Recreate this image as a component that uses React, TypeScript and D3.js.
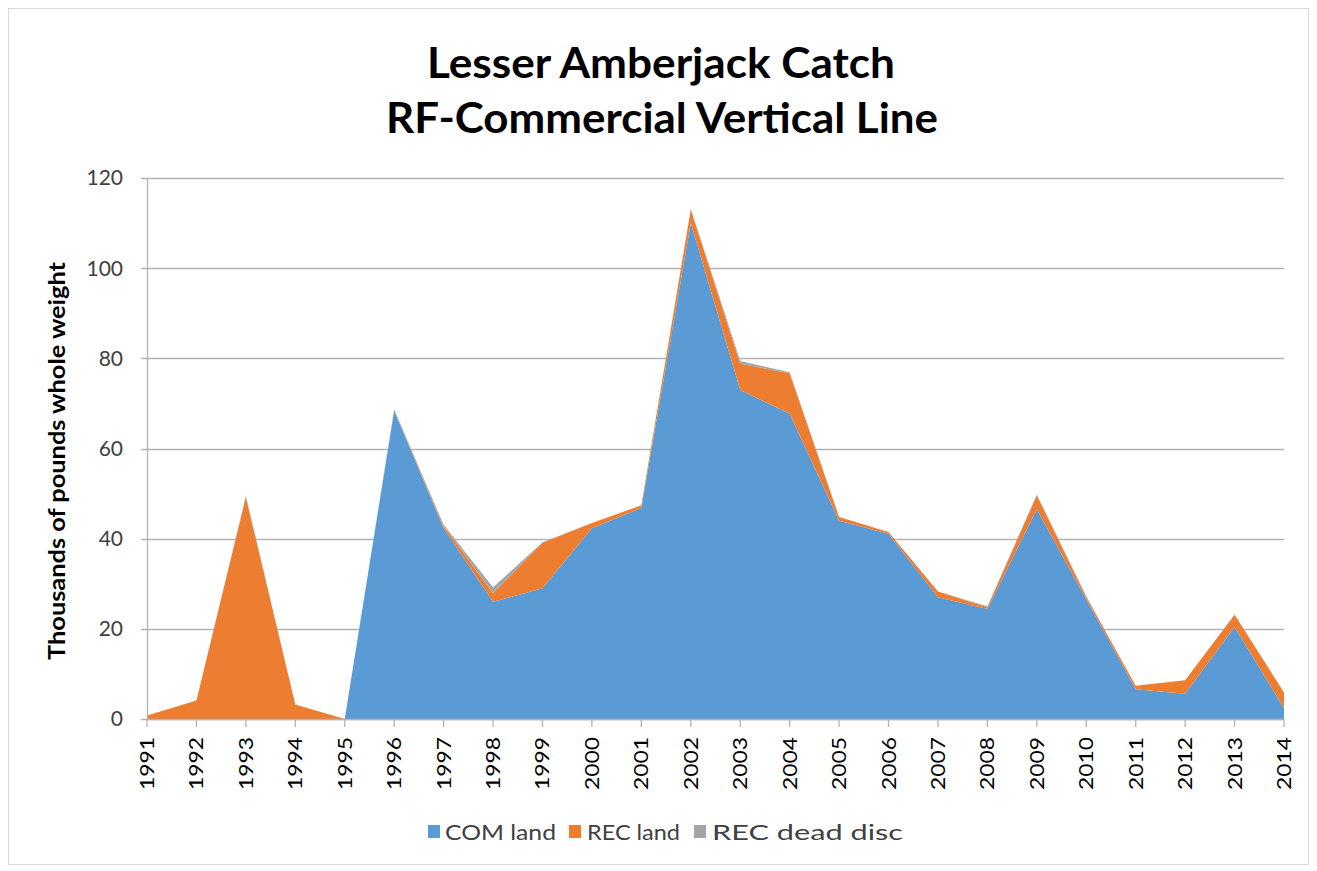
import React from "react";
import * as d3 from "d3";

const years = [1991,1992,1993,1994,1995,1996,1997,1998,1999,2000,2001,2002,2003,2004,2005,2006,2007,2008,2009,2010,2011,2012,2013,2014];
const comLand = [0,0,0,0,0,68.4,42.3,26,29,42.3,46.8,110,73,67.7,44,41.1,27,24.4,46.5,26.5,6.6,5.6,20.4,2.4];
const recLand = [0.8,4.1,49.2,3.2,0,0,0.5,1.9,10.1,1.2,0.6,3,5.8,9,0.8,0.4,1.3,0.4,3.1,0.5,0.8,3,2.7,3.5];
const recDeadDisc = [0,0,0.3,0,0,0.3,0.3,1.3,0.1,0,0,0.2,0.6,0.2,0,0,0,0.2,0.2,0.3,0,0,0,0];
const yTicks = [0,20,40,60,80,100,120];
const seriesNames = ["COM land","REC land","REC dead disc"];
const colors = ["#5B9BD5","#ED7D31","#A5A5A5"];

const FONT = "Lato, 'Open Sans', sans-serif";

export default function App() {
  const x = d3.scalePoint<number>().domain(years).range([147, 1284]);
  const y = d3.scaleLinear().domain([0, 120]).range([719, 178]);
  const rows = years.map((yr, i) => ({ year: yr, a: comLand[i], b: recLand[i], c: recDeadDisc[i] }));
  const stack = d3.stack<any>().keys(["a","b","c"]);
  const layers = stack(rows);
  const area = d3.area<any>()
    .x((d) => x(d.data.year) as number)
    .y0((d) => y(d[0]))
    .y1((d) => y(d[1]));

  const legendItems = [
    { x: 428, tx: 445, w: 111 },
    { x: 569, tx: 587, w: 93 },
    { x: 694, tx: 712, w: 191 },
  ];

  return (
    <svg width={1317} height={871} style={{ position: "absolute", left: 0, top: 0, background: "#fff" }}>
      <rect x={8.5} y={8.5} width={1300} height={856} fill="#fff" stroke="#d9d9d9" />
      <text x={661} y={78} textAnchor="middle" fontFamily={FONT} fontWeight="bold" fontSize={42} textLength={468} lengthAdjust="spacingAndGlyphs" fill="#000">Lesser Amberjack Catch</text>
      <text x={662} y={133} textAnchor="middle" fontFamily={FONT} fontWeight="bold" fontSize={42} textLength={552} lengthAdjust="spacingAndGlyphs" fill="#000">RF-Commercial Vertical Line</text>

      {yTicks.map((t) => (
        <g key={t}>
          <line x1={141} x2={1284} y1={Math.round(y(t)) + 0.5} y2={Math.round(y(t)) + 0.5} stroke="#b3b3b3" strokeWidth={1.3} />
          <text x={123} y={y(t)} dy="0.35em" textAnchor="end" fontFamily={FONT} fontSize={21} fill="#404040">{t}</text>
        </g>
      ))}

      {layers.map((layer, i) => (
        <path key={i} d={area(layer as any) || ""} fill={colors[i]} />
      ))}

      <line x1={147.5} x2={147.5} y1={178} y2={719} stroke="#b3b3b3" strokeWidth={1.3} />
      <line x1={147} x2={1284} y1={719.5} y2={719.5} stroke="#b3b3b3" strokeWidth={1.3} />
      {years.map((yr) => (
        <g key={yr}>
          <line x1={(x(yr) as number)} x2={(x(yr) as number)} y1={719} y2={727} stroke="#b3b3b3" strokeWidth={1.3} />
          <text transform={`translate(${x(yr)},737) rotate(-90)`} dy="0.35em" textAnchor="end" fontFamily={FONT} fontSize={20} textLength={53} lengthAdjust="spacingAndGlyphs" fill="#000">{yr}</text>
        </g>
      ))}

      <text transform="translate(57,461) rotate(-90)" dy="0.35em" textAnchor="middle" fontFamily={FONT} fontWeight="bold" fontSize={22} textLength={398} lengthAdjust="spacingAndGlyphs" fill="#000">Thousands of pounds whole weight</text>

      {seriesNames.map((name, i) => (
        <g key={name}>
          <rect x={legendItems[i].x} y={825} width={12} height={13} fill={colors[i]} />
          <text x={legendItems[i].tx} y={832} dy="0.35em" fontFamily={FONT} fontSize={22} textLength={legendItems[i].w} lengthAdjust="spacingAndGlyphs" fill="#404040">{name}</text>
        </g>
      ))}
    </svg>
  );
}
